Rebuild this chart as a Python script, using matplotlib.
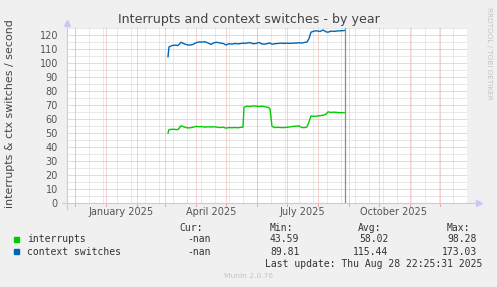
import matplotlib
matplotlib.use("Agg")
import matplotlib.pyplot as plt
import matplotlib.dates as mdates
import pandas as pd
import numpy as np

# ---------------- data ----------------
dates = ["2025-03-04", "2025-03-05", "2025-03-08", "2025-03-11", "2025-03-14", "2025-03-17",
         "2025-03-20", "2025-03-23", "2025-03-26", "2025-03-29", "2025-04-01", "2025-04-04",
         "2025-04-07", "2025-04-10", "2025-04-13", "2025-04-16", "2025-04-19", "2025-04-22",
         "2025-04-25", "2025-04-28", "2025-05-01", "2025-05-04", "2025-05-07", "2025-05-10",
         "2025-05-13", "2025-05-16", "2025-05-18", "2025-05-19", "2025-05-22", "2025-05-25",
         "2025-05-28", "2025-05-31", "2025-06-03", "2025-06-06", "2025-06-09", "2025-06-12",
         "2025-06-14", "2025-06-16", "2025-06-19", "2025-06-22", "2025-06-25", "2025-06-28",
         "2025-07-01", "2025-07-04", "2025-07-07", "2025-07-10", "2025-07-13", "2025-07-16",
         "2025-07-19", "2025-07-21", "2025-07-23", "2025-07-25", "2025-07-28", "2025-07-31",
         "2025-08-03", "2025-08-06", "2025-08-09", "2025-08-11", "2025-08-14", "2025-08-17",
         "2025-08-20", "2025-08-23", "2025-08-28"]
interrupts = [50.0, 52.5, 52.8, 52.7, 52.5, 55.3,
              54.5, 53.8, 53.8, 54.3, 54.8, 54.6,
              54.7, 54.3, 54.6, 54.4, 54.6, 54.3,
              54.0, 54.3, 53.6, 54.0, 53.9, 54.0,
              53.9, 54.2, 54.3, 68.5, 69.3, 69.0,
              69.5, 69.3, 69.0, 69.3, 68.8, 68.5,
              67.5, 54.8, 54.0, 54.2, 54.0, 54.0,
              54.2, 54.5, 54.8, 55.0, 55.2, 54.0,
              54.0, 54.5, 58.0, 62.3, 62.0, 62.2,
              62.5, 62.8, 63.5, 65.2, 64.8, 65.0,
              64.8, 64.6, 64.7]
context_switches = [104.5, 111.5, 112.5, 112.8, 112.5, 114.8,
                    113.8, 113.0, 112.8, 113.3, 114.5, 115.0,
                    115.0, 115.2, 114.3, 113.3, 114.5, 114.8,
                    114.3, 114.0, 112.9, 113.8, 113.5, 114.0,
                    113.7, 114.0, 114.2, 114.0, 114.3, 114.6,
                    113.8, 114.0, 114.7, 113.6, 113.5, 114.0,
                    114.3, 113.4, 113.8, 114.0, 114.2, 114.0,
                    114.2, 114.0, 114.3, 114.2, 114.5, 114.3,
                    114.8, 115.0, 117.5, 122.0, 122.8, 123.0,
                    122.5, 123.6, 122.3, 122.0, 122.8, 122.6,
                    122.9, 123.0, 123.2]

series_names = ["interrupts", "context switches"]
series_colors = ["#00CC00", "#0066B3"]
cur_vals = ["-nan", "-nan"]
min_vals = ["43.59", "89.81"]
avg_vals = ["58.02", "115.44"]
max_vals = ["98.28", "173.03"]

x_label_texts = ["January 2025", "April 2025", "July 2025", "October 2025"]
x_label_dates = ["2025-01-16", "2025-04-16", "2025-07-16", "2025-10-16"]
y_ticks = list(range(0, 121, 10))
last_update = "2025-08-28"

x_start, x_end = "2024-11-23", "2025-12-28"

# ---------------- figure ----------------
W, H = 497, 287
fig = plt.figure(figsize=(W / 100, H / 100), dpi=100, facecolor="#F0F0F0")
L, R, T, B = 67, 467, 28, 203.3
ax = fig.add_axes([L / W, 1 - B / H, (R - L) / W, (B - T) / H])
ax.set_facecolor("white")
for s in ax.spines.values():
    s.set_visible(False)

xs = mdates.date2num(pd.to_datetime(dates))
x0 = mdates.date2num(pd.Timestamp(x_start))
x1 = mdates.date2num(pd.Timestamp(x_end))
ax.set_xlim(x0, x1)
ax.set_ylim(0, 125)

dot = (0, (1, 1))
grid_lw = 0.72
minor_c = "#D4D4D4"
major_c = "#EDA8A8"

# horizontal grid
for v in np.arange(5, 126, 5):
    c = major_c if v % 10 == 0 else minor_c
    ax.axhline(v, color=c, lw=grid_lw, ls=dot, zorder=1)

# vertical grid: minor every 14 days, major at month starts
minor_days = pd.date_range("2024-12-01", x_end, freq="14D")
for d in minor_days:
    ax.axvline(mdates.date2num(d), color=minor_c, lw=grid_lw, ls=dot, zorder=1)
month_starts = pd.date_range("2024-12-01", x_end, freq="MS")
for d in month_starts:
    ax.axvline(mdates.date2num(d), color=major_c, lw=grid_lw, ls=dot, zorder=1.5)
    ax.plot([mdates.date2num(d)] * 2, [0, -2.2], color=major_c, lw=0.72, clip_on=False, zorder=2)

ax.set_xticks([])
ax.set_yticks(y_ticks)
ax.set_yticklabels([str(v) for v in y_ticks], fontsize=7, color="#555555")
ax.tick_params(axis="y", length=0, pad=6.5)

# series
ax.plot(xs, interrupts, color=series_colors[0], lw=1.0, zorder=3)
ax.plot(xs, context_switches, color=series_colors[1], lw=1.0, zorder=3)

# last update vertical rule
lu = mdates.date2num(pd.Timestamp(last_update))
ax.axvline(lu, color="#8C8C8C", lw=0.9, zorder=4)

# axis lines with arrows
axc = "#C8C8F5"
ax.plot([0, 0], [-0.03, 1.02], transform=ax.transAxes, color=axc, lw=0.8, clip_on=False, zorder=5)
ax.plot([-0.013, 1.022], [0, 0], transform=ax.transAxes, color=axc, lw=0.8, clip_on=False, zorder=5)
ax.plot([0], [1.03], marker="^", ms=4, color=axc, transform=ax.transAxes, clip_on=False, zorder=5)
ax.plot([1.03], [0], marker=">", ms=4, color=axc, transform=ax.transAxes, clip_on=False, zorder=5)

# x labels
for lab, d in zip(x_label_texts, x_label_dates):
    ax.text(mdates.date2num(pd.Timestamp(d)), -6, lab, ha="center", va="center",
            fontsize=7, color="#555555", clip_on=False)

# title & y label
fig.text(249 / W, 1 - 19.3 / H, "Interrupts and context switches - by year",
         ha="center", va="center", fontsize=9.1, color="#444444")
fig.text(10 / W, 1 - 114 / H, "interrupts & ctx switches / second", rotation=90,
         ha="center", va="center", fontsize=7.9, color="#444444")
fig.text(489 / W, 1 - 53 / H, "RRDTOOL / TOBI OETIKER", rotation=270,
         ha="center", va="center", fontsize=5.2, color="#C4C4C4")

# legend
mono = "DejaVu Sans Mono"
lc = "#333333"
def ft(x, y, s, ha="left", **kw):
    fig.text(x / W, 1 - y / H, s, ha=ha, va="center", family=mono, fontsize=7, color=lc, **kw)

ft(203, 228.3, "Cur:", ha="right")
ft(293, 228.3, "Min:", ha="right")
ft(381, 228.3, "Avg:", ha="right")
ft(470, 228.3, "Max:", ha="right")
rows_y = [239.3, 251.7]
for i in range(2):
    y = rows_y[i]
    fig.patches.append(plt.Rectangle((14 / W, 1 - (y + 2.7) / H), 5.4 / W, 5.4 / H,
                                     transform=fig.transFigure, color=series_colors[i]))
    ft(26.7, y, series_names[i])
    ft(210.7, y, cur_vals[i], ha="right")
    ft(299.3, y, min_vals[i], ha="right")
    ft(388.3, y, avg_vals[i], ha="right")
    ft(476.7, y, max_vals[i], ha="right")
ft(482.3, 263.7, "Last update: Thu Aug 28 22:25:31 2025", ha="right")
fig.text(248 / W, 1 - 276 / H, "Munin 2.0.76", ha="center", va="center",
         fontsize=5.4, color="#C4C4C4")

fig.savefig("out.png", dpi=100, facecolor=fig.get_facecolor())
